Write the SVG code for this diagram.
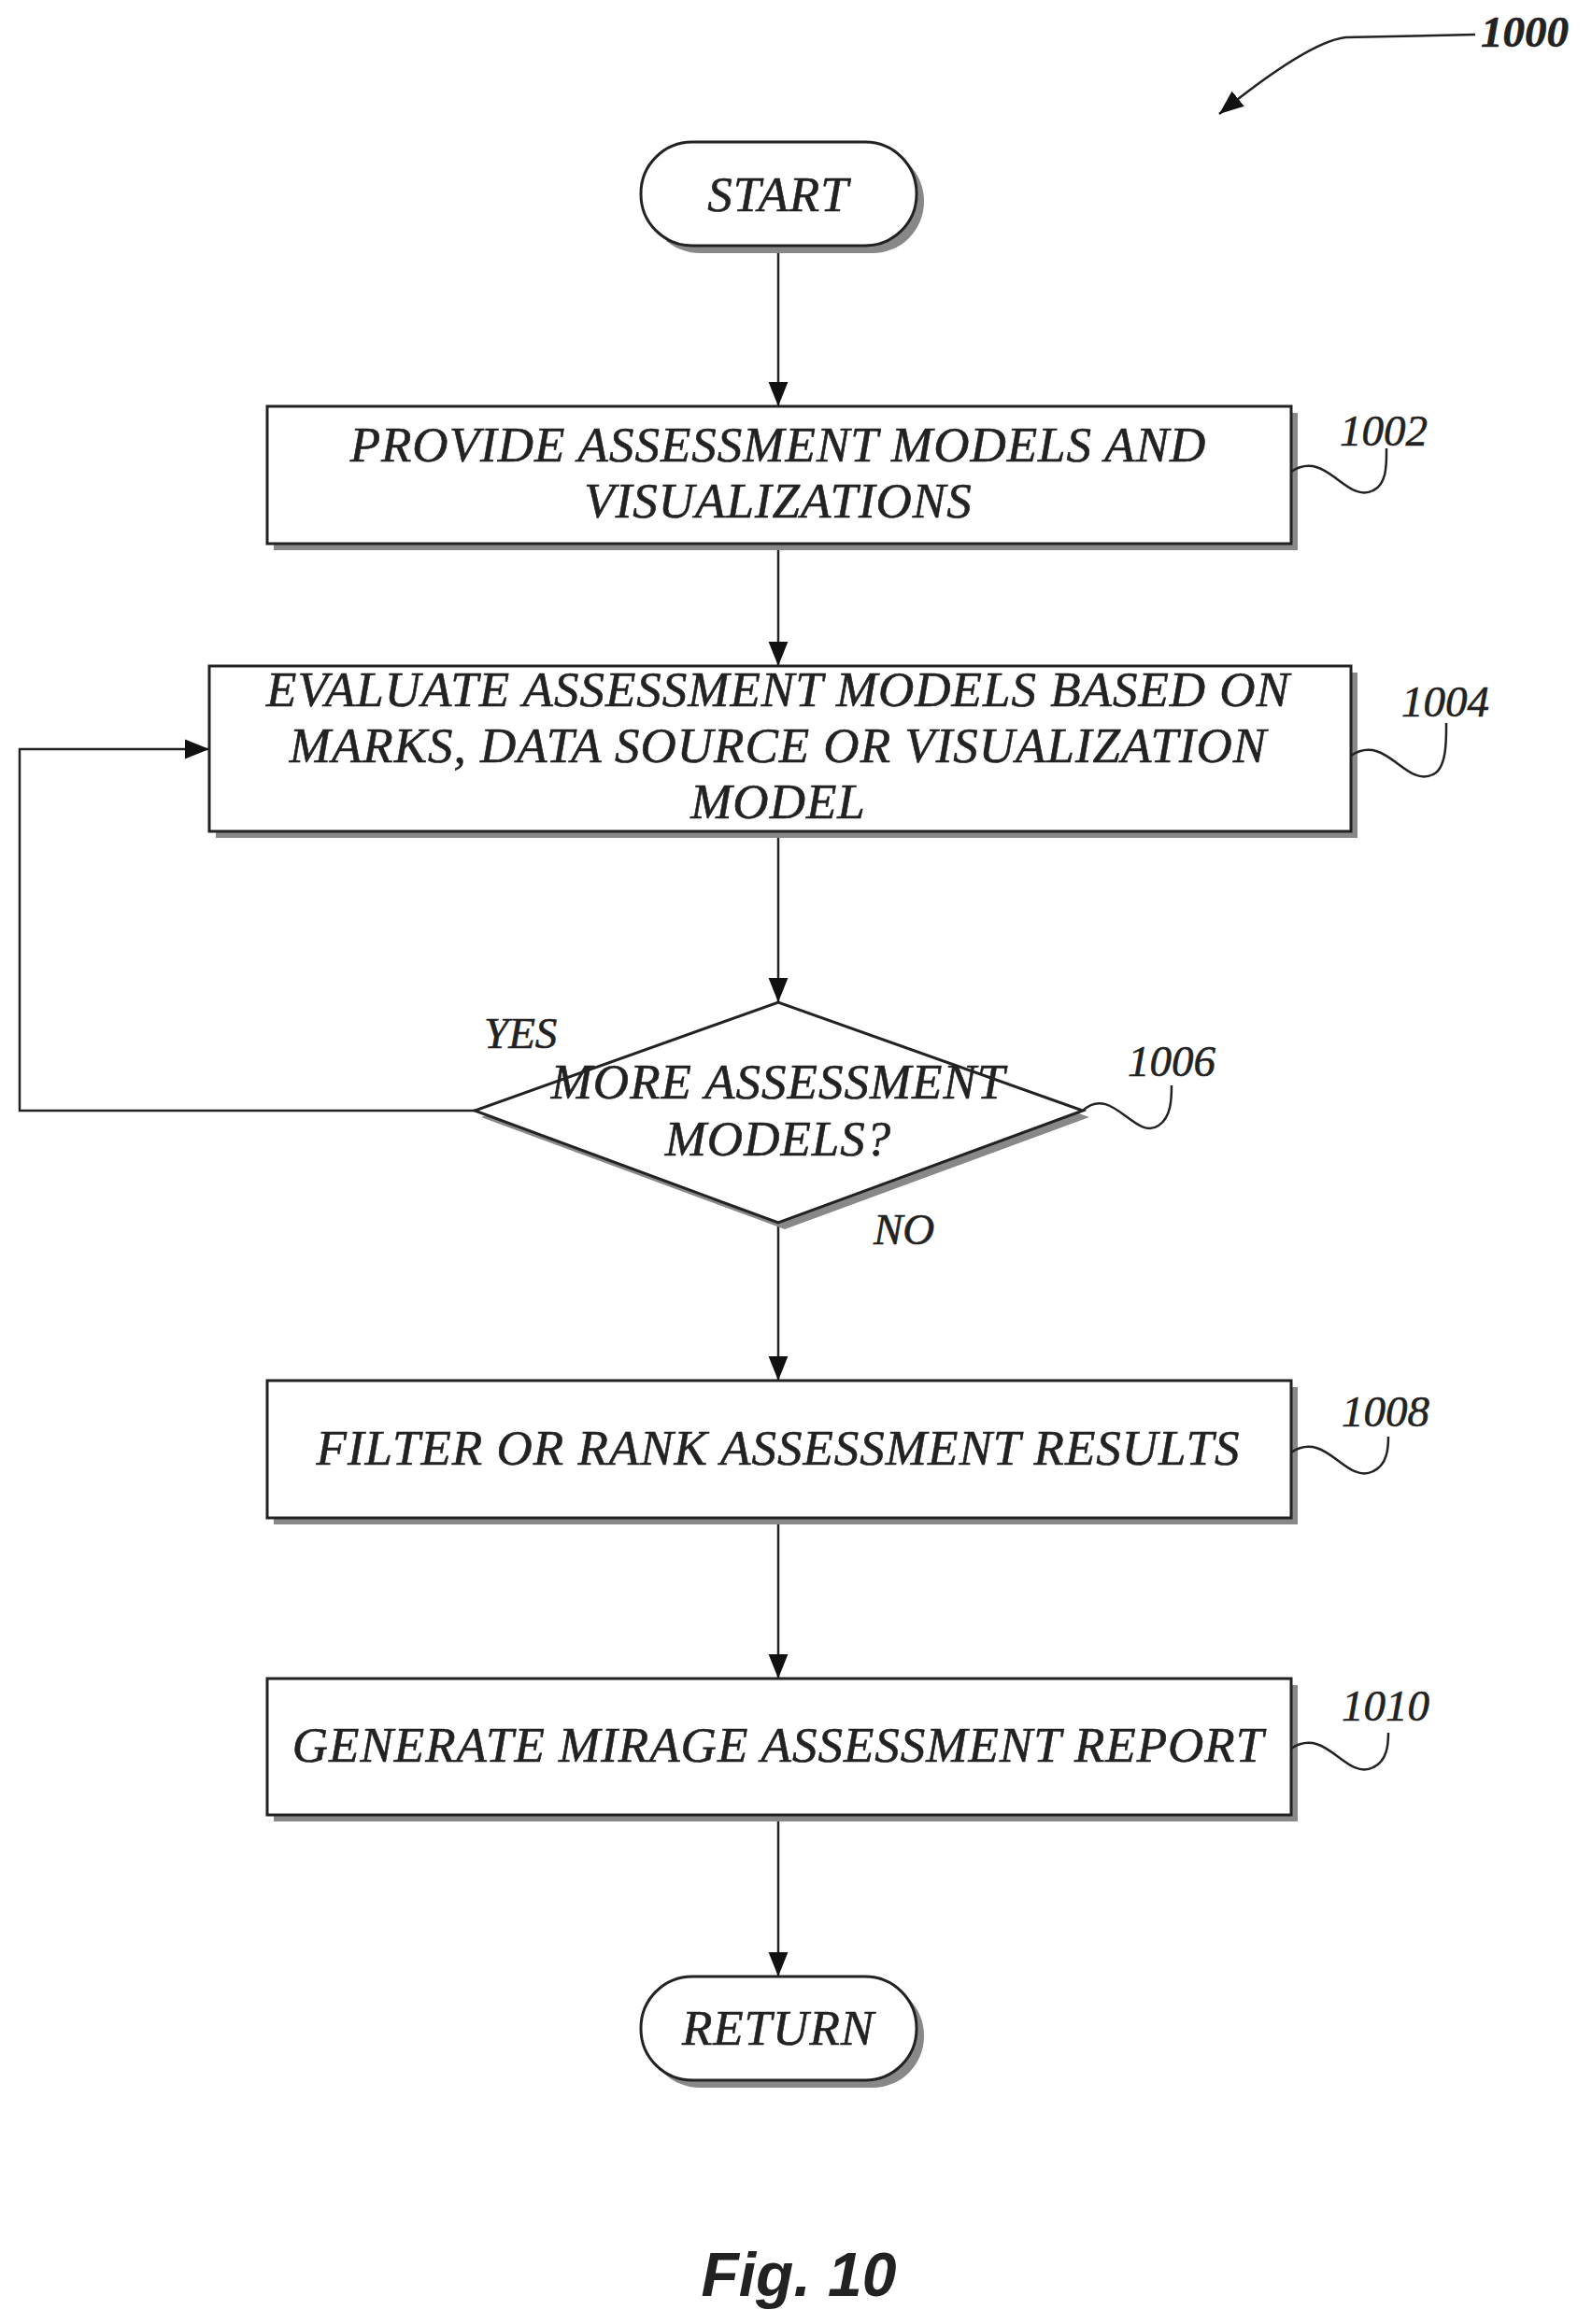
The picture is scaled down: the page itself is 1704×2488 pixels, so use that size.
<svg xmlns="http://www.w3.org/2000/svg" width="1704" height="2488" viewBox="0 0 1704 2488">
<style>
.t{font-family:"Liberation Serif","DejaVu Serif",serif;font-style:italic;font-size:53px;letter-spacing:1px;fill:#222;text-anchor:middle;stroke:#222;stroke-width:0.6}
.n{font-family:"Liberation Serif","DejaVu Serif",serif;font-style:italic;font-size:47px;fill:#222;stroke:#222;stroke-width:0.6}
.b{fill:#fff;stroke:#222;stroke-width:3}
.s{fill:#888}
.c{fill:none;stroke:#222;stroke-width:2.5}
</style>
<defs>
<marker id="ah" viewBox="0 0 10 10" refX="10" refY="5" markerWidth="26" markerHeight="26" markerUnits="userSpaceOnUse" orient="auto"><path d="M0,1L10,5L0,9z" fill="#111"/></marker></defs>
<rect width="1704" height="2488" fill="#fff"/>
<g id="connectors" class="c">
<path d="M833,263V435" marker-end="url(#ah)"/>
<path d="M833,582V713" marker-end="url(#ah)"/>
<path d="M833,890V1073" marker-end="url(#ah)"/>
<path d="M833,1309V1478" marker-end="url(#ah)"/>
<path d="M833,1625V1797" marker-end="url(#ah)"/>
<path d="M833,1943V2116" marker-end="url(#ah)"/>
<path d="M508,1189H21V802H224" marker-end="url(#ah)"/>
<path d="M1579,37L1440,40Q1400,45 1305,122" marker-end="url(#ah)"/>
</g>
<g id="start"><rect class="s" x="694" y="160" width="295" height="111" rx="55"/><rect class="b" x="686" y="152" width="295" height="111" rx="55"/><text class="t" x="833" y="226">START</text></g>
<g id="n1002"><rect class="s" x="293" y="442" width="1096" height="147"/><rect class="b" x="286" y="435" width="1096" height="147"/><text class="t" x="833" y="494">PROVIDE ASSESSMENT MODELS AND</text><text class="t" x="833" y="554">VISUALIZATIONS</text>
<path class="c" d="M1382,505C1420,480 1440,540 1470,525C1485,518 1484,495 1484,480"/><text class="n" x="1434" y="477">1002</text></g>
<g id="n1004"><rect class="s" x="231" y="720" width="1222" height="177"/><rect class="b" x="224" y="713" width="1222" height="177"/><text class="t" x="833" y="756">EVALUATE ASSESSMENT MODELS BASED ON</text><text class="t" x="833" y="816">MARKS, DATA SOURCE OR VISUALIZATION</text><text class="t" x="833" y="876">MODEL</text>
<path class="c" d="M1446,809C1484,784 1504,844 1534,829C1549,822 1548,790 1548,774"/><text class="n" x="1500" y="767">1004</text></g>
<g id="n1006"><path class="s" d="M515,1196L840,1080L1166,1196L840,1316z"/><path class="b" d="M508,1189L833,1073L1159,1189L833,1309z"/><text class="t" x="833" y="1176">MORE ASSESSMENT</text><text class="t" x="833" y="1237">MODELS?</text>
<path class="c" d="M1159,1189C1190,1160 1215,1222 1240,1205C1254,1196 1254,1175 1254,1162"/><text class="n" x="1207" y="1152">1006</text>
<text class="n" x="518" y="1122">YES</text><text class="n" x="935" y="1332">NO</text></g>
<g id="n1008"><rect class="s" x="293" y="1485" width="1096" height="147"/><rect class="b" x="286" y="1478" width="1096" height="147"/><text class="t" x="833" y="1568">FILTER OR RANK ASSESSMENT RESULTS</text>
<path class="c" d="M1382,1555C1420,1530 1440,1590 1470,1575C1485,1568 1486,1550 1486,1538"/><text class="n" x="1436" y="1527">1008</text></g>
<g id="n1010"><rect class="s" x="293" y="1804" width="1096" height="146"/><rect class="b" x="286" y="1797" width="1096" height="146"/><text class="t" x="833" y="1886">GENERATE MIRAGE ASSESSMENT REPORT</text>
<path class="c" d="M1382,1872C1420,1847 1440,1907 1470,1892C1485,1885 1486,1867 1486,1855"/><text class="n" x="1436" y="1842">1010</text></g>
<g id="ret"><rect class="s" x="694" y="2124" width="295" height="111" rx="55"/><rect class="b" x="686" y="2116" width="295" height="111" rx="55"/><text class="t" x="833" y="2189">RETURN</text></g>
<text class="n" x="1585" y="50" style="font-weight:bold">1000</text>
<text x="855" y="2458" style="font-family:'Liberation Sans',Arial,sans-serif;font-style:italic;font-weight:bold;font-size:66px;text-anchor:middle;fill:#222">Fig. 10</text>
</svg>
